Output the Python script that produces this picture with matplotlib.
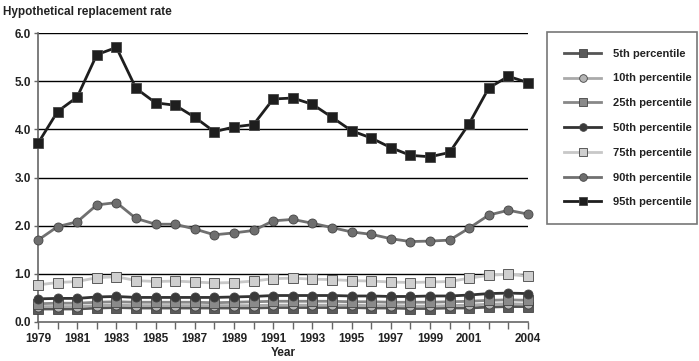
import matplotlib
matplotlib.use("Agg")
import matplotlib.pyplot as plt
import numpy as np

plt.rcParams['font.family'] = ['Liberation Sans', 'DejaVu Sans']

years = list(range(1979, 2005))

p5 = [0.27, 0.27, 0.27, 0.29, 0.30, 0.29, 0.29, 0.29, 0.29, 0.29, 0.29, 0.29, 0.30, 0.30, 0.30, 0.30, 0.30, 0.29, 0.29, 0.28, 0.28, 0.29, 0.29, 0.31, 0.32, 0.32]
p10 = [0.32, 0.32, 0.32, 0.34, 0.35, 0.34, 0.34, 0.34, 0.34, 0.34, 0.34, 0.34, 0.35, 0.35, 0.35, 0.35, 0.35, 0.34, 0.34, 0.33, 0.33, 0.34, 0.35, 0.37, 0.38, 0.37]
p25 = [0.38, 0.39, 0.39, 0.41, 0.42, 0.41, 0.41, 0.41, 0.41, 0.40, 0.41, 0.42, 0.43, 0.43, 0.43, 0.43, 0.42, 0.42, 0.41, 0.41, 0.41, 0.42, 0.43, 0.45, 0.46, 0.45]
p50 = [0.48, 0.49, 0.49, 0.52, 0.53, 0.51, 0.51, 0.51, 0.51, 0.51, 0.52, 0.53, 0.55, 0.55, 0.55, 0.55, 0.54, 0.54, 0.53, 0.53, 0.54, 0.54, 0.56, 0.59, 0.60, 0.59]
p75 = [0.77, 0.82, 0.84, 0.92, 0.94, 0.86, 0.84, 0.85, 0.83, 0.81, 0.82, 0.85, 0.90, 0.91, 0.89, 0.88, 0.86, 0.85, 0.83, 0.82, 0.83, 0.84, 0.91, 0.97, 0.99, 0.95]
p90 = [1.70, 1.98, 2.08, 2.43, 2.48, 2.15, 2.03, 2.03, 1.93, 1.81, 1.85, 1.90, 2.10, 2.13, 2.05, 1.96, 1.87, 1.82, 1.73, 1.67, 1.68, 1.70, 1.95, 2.22, 2.32, 2.24]
p95 = [3.71, 4.37, 4.67, 5.55, 5.70, 4.85, 4.55, 4.50, 4.25, 3.95, 4.05, 4.10, 4.63, 4.65, 4.52, 4.25, 3.97, 3.82, 3.62, 3.46, 3.43, 3.52, 4.12, 4.86, 5.10, 4.97]

labels = ['5th percentile', '10th percentile', '25th percentile', '50th percentile',
          '75th percentile', '90th percentile', '95th percentile']
x_labels = ['1979', '', '1981', '', '1983', '', '1985', '', '1987', '', '1989', '', '1991', '',
            '1993', '', '1995', '', '1997', '', '1999', '', '2001', '', '', '2004']
series = [p5, p10, p25, p50, p75, p90, p95]
line_colors = ['#555555', '#aaaaaa', '#888888', '#333333', '#c8c8c8', '#707070', '#1e1e1e']
face_colors = ['#5a5a5a', '#b4b4b4', '#8a8a8a', '#3a3a3a', '#cfcfcf', '#6e6e6e', '#1e1e1e']
markers = ['s', 'o', 's', 'o', 's', 'o', 's']

fig = plt.figure(figsize=(6.99, 3.61), dpi=100)
ax = fig.add_axes([38/699, 1-322/361, (528-38)/699, (322-33)/361])

for yv in [1, 2, 3, 4, 5, 6]:
    ax.axhline(yv, color='black', lw=1.0, zorder=1)

for s, lab, lc, fc, m in zip(series, labels, line_colors, face_colors, markers):
    ax.plot(years, s, color=lc, lw=2.0, marker=m, markersize=6.5,
            markerfacecolor=fc, markeredgecolor='#444444', markeredgewidth=0.6,
            label=lab, zorder=3, clip_on=False)

ax.set_xlim(1979, 2004)
ax.set_ylim(0, 6)
ax.set_yticks([0, 1, 2, 3, 4, 5, 6])
ax.set_yticklabels(['0.0', '1.0', '2.0', '3.0', '4.0', '5.0', '6.0'])
ax.set_xticks(years)
ax.set_xticklabels(x_labels)
for lab in ax.get_xticklabels() + ax.get_yticklabels():
    lab.set_fontweight('bold')
    lab.set_fontsize(8.5)
    lab.set_color('#222222')

ax.tick_params(axis='x', direction='out', length=5, width=1, color='#666666', pad=3)
ax.tick_params(axis='y', direction='out', length=3, width=1, color='#666666', pad=2)

for sp in ['top', 'right']:
    ax.spines[sp].set_visible(False)
ax.spines['left'].set_color('#666666')
ax.spines['bottom'].set_color('#666666')
ax.spines['left'].set_linewidth(1.2)
ax.spines['bottom'].set_linewidth(1.2)

ax.set_xlabel('Year', fontsize=8.5, fontweight='bold', color='#222222', labelpad=1.5)
fig.text(3/699, 1-12/361, 'Hypothetical replacement rate', fontsize=8.5,
         fontweight='bold', color='#222222', va='center', ha='left')

leg = fig.legend(loc='upper left', bbox_to_anchor=(547/699, 1-226/361, 150/699, 194/361),
                 mode='expand', frameon=True, fancybox=False,
                 prop={'weight': 'bold', 'size': 8}, handlelength=3.4, markerscale=0.85,
                 labelspacing=1.33, borderpad=1.5, handletextpad=1.0, borderaxespad=0)
leg.get_frame().set_edgecolor('#555555')
leg.get_frame().set_linewidth(1.2)
for t in leg.get_texts():
    t.set_color('#222222')

fig.savefig('out.png', dpi=100)
